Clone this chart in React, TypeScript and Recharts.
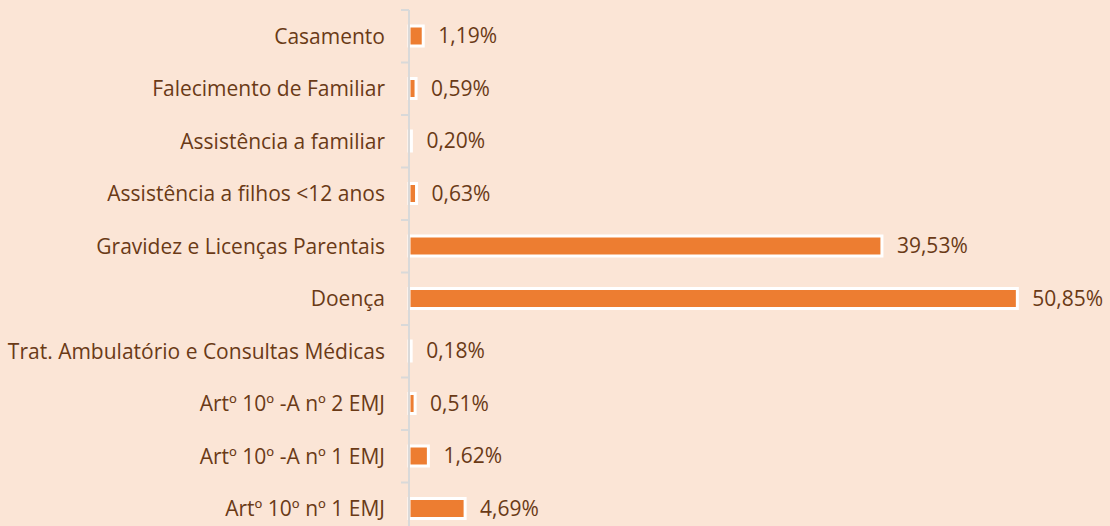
import { BarChart, Bar, XAxis, YAxis, LabelList } from 'recharts';

const categories = [
  'Casamento',
  'Falecimento de Familiar',
  'Assistência a familiar',
  'Assistência a filhos <12 anos',
  'Gravidez e Licenças Parentais',
  'Doença',
  'Trat. Ambulatório e Consultas Médicas',
  'Artº 10º -A nº 2 EMJ',
  'Artº 10º -A nº 1 EMJ',
  'Artº 10º nº 1 EMJ',
];

const shares = [1.19, 0.59, 0.2, 0.63, 39.53, 50.85, 0.18, 0.51, 1.62, 4.69];

const data = categories.map((name, i) => ({ name, value: shares[i] }));

const BG = '#FBE5D6';
const BAR = '#ED7D31';
const TEXT = '#6A3A16';
const AXIS = '#D9D9D9';
const FONT = '"Open Sans", sans-serif';
const FONT_SIZE = 21;

const WIDTH = 1110;
const TOP = 10;
const PLOT_H = 525;
const HEIGHT = TOP + PLOT_H + 10;
const BAND = PLOT_H / categories.length;
const TICK_SIZE = 8;
const TICK_MARGIN = 16;

const fmt = (v: number) => v.toFixed(2).replace('.', ',') + '%';

function CategoryTick({ x, y, payload, index }: any) {
  const axisX = x + TICK_MARGIN + TICK_SIZE;
  const half = BAND / 2;
  return (
    <g>
      <text x={x} y={y} dy="0.355em" textAnchor="end" fill={TEXT} fontSize={FONT_SIZE} fontFamily={FONT}>
        {payload.value}
      </text>
      <line x1={axisX - TICK_SIZE} x2={axisX} y1={y - half} y2={y - half} stroke={AXIS} strokeWidth={2} />
      {index === categories.length - 1 && (
        <line x1={axisX - TICK_SIZE} x2={axisX} y1={y + half} y2={y + half} stroke={AXIS} strokeWidth={2} />
      )}
    </g>
  );
}

export default function App() {
  return (
    <div
      style={{
        position: 'fixed',
        left: 0,
        top: 0,
        width: WIDTH,
        height: 526,
        overflow: 'hidden',
        background: BG,
      }}
    >
      <BarChart
        width={WIDTH}
        height={HEIGHT}
        data={data}
        layout="vertical"
        margin={{ top: TOP, right: 43, bottom: 10, left: 0 }}
        barCategoryGap={0}
      >
        <XAxis type="number" domain={[0, 55]} hide />
        <YAxis
          type="category"
          dataKey="name"
          width={409}
          interval={0}
          tickSize={TICK_SIZE}
          tickMargin={TICK_MARGIN}
          tickLine={false}
          axisLine={{ stroke: AXIS, strokeWidth: 2 }}
          tick={<CategoryTick />}
        />
        <Bar dataKey="value" fill={BAR} stroke="#FFFFFF" strokeWidth={3} barSize={20} isAnimationActive={false}>
          <LabelList
            dataKey="value"
            position="right"
            offset={15}
            formatter={(v: any) => fmt(Number(v))}
            fill={TEXT}
            fontSize={FONT_SIZE}
            fontFamily={FONT}
          />
        </Bar>
      </BarChart>
    </div>
  );
}
